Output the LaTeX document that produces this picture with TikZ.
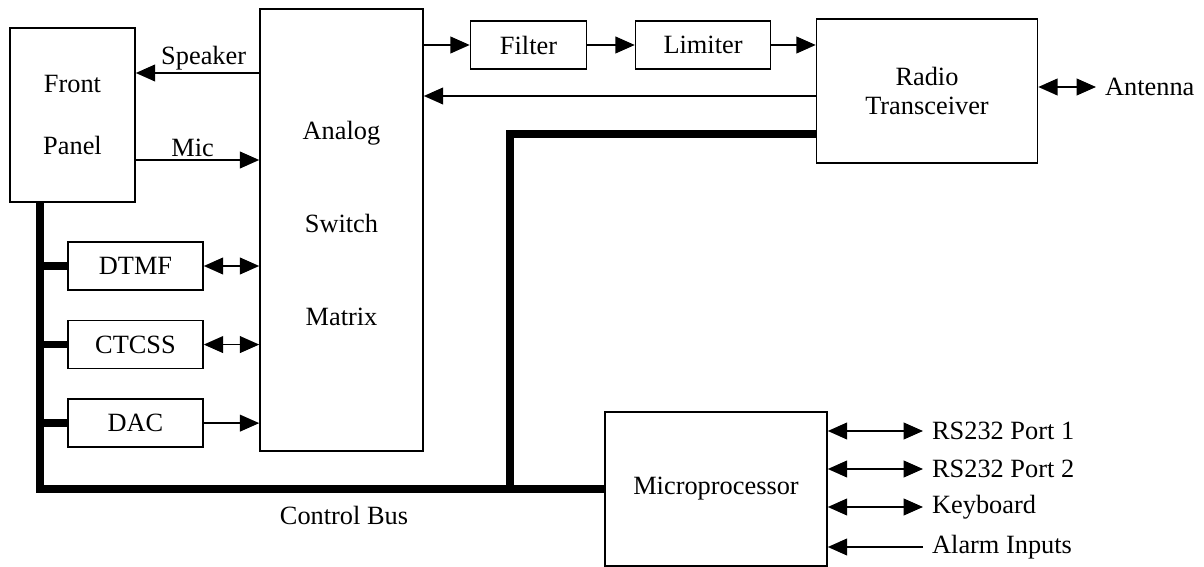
\documentclass[tikz,border=0pt]{standalone}
\usepackage{fontspec}
\setmainfont{Liberation Serif}
\usetikzlibrary{arrows.meta}
\usetikzlibrary{positioning}
\usetikzlibrary{calc}

\begin{document}
\begin{tikzpicture}[x=0.02cm, y=-0.02cm,
  font=\fontsize{15}{17}\selectfont,
  >={Triangle[length=11pt,width=9.5pt]},
  block/.style={rectangle, draw=black, line width=0.9pt, inner sep=0mm,
    align=center},
  smallblock/.style={block, minimum width=2.7cm, minimum height=0.96cm},
  sig/.style={line width=1pt},
  bus/.style={line width=4.3pt},
  port/.style={anchor=west, inner sep=5pt}]

  \useasboundingbox (0,0) rectangle (1204,567);

  \node[block, minimum width=2.5cm, minimum height=3.48cm] (FP) at (72.5,115)
  {Front\\[18pt]Panel};

  \node[block, minimum width=3.26cm, minimum height=8.84cm, text depth=7.5pt]
  (ASM) at (341.5,230) {Analog\\[36pt]Switch\\[36pt]Matrix};

  \node[block, minimum width=2.32cm, minimum height=0.96cm] (Filter) at (528.5,45)
  {Filter};
  \node[smallblock] (Limiter) [right=0.95cm of Filter] {Limiter};

  \node[block, minimum width=4.42cm, minimum height=2.88cm] (Radio) at (927,91)
  {Radio\\Transceiver};

  \node[smallblock] (DTMF) at (135.5,266) {DTMF};
  \node[smallblock] (CTCSS) [below=0.58cm of DTMF] {CTCSS};
  \node[smallblock] (DAC) [below=0.58cm of CTCSS] {DAC};

  \node[block, minimum width=4.44cm, minimum height=3.08cm] (Micro) at (716,489)
  {Microprocessor};

  \node[port] (Ant) at (1096,87) {Antenna};
  \node[port] (P1) at (923,431) {RS232 Port 1};
  \node[port] (P2) at (923,469) {RS232 Port 2};
  \node[port] (KB) at (923,507) {Keyboard};
  \node[port] (AL) at (923,547) {Alarm Inputs};

  \node (CB) at (344,515) {Control Bus};

\coordinate (spk) at (0,73);
\coordinate (mic) at (0,160);
\coordinate (rx) at (0,96);
\coordinate (busy) at (0,134);
\coordinate (bl) at (40,489);
\coordinate (bj) at (510,489);

  \path[->, sig]
 (spk -| ASM.west) edge node[above, inner sep=1pt, pos=0.45]{Speaker} (spk -| FP.east)
 (mic -| FP.east) edge node[above, inner sep=1.5pt, pos=0.46]{Mic} (mic -| ASM.west)
 (Filter.west -| ASM.east) edge (Filter.west)
 (Filter.east) edge (Limiter.west)
 (Limiter.east) edge (Limiter.east -| Radio.west)
 (rx -| Radio.west) edge (rx -| ASM.east)
 (DAC.east) edge (DAC.east -| ASM.west)
 (AL.west) edge (AL.west -| Micro.east);

  \path[<->, sig]
 (DTMF.east) edge (DTMF.east -| ASM.west)
 (CTCSS.east) edge (CTCSS.east -| ASM.west)
 (Ant.west -| Radio.east) edge (Ant.west)
 (P1.west -| Micro.east) edge (P1.west)
 (P2.west -| Micro.east) edge (P2.west)
 (KB.west -| Micro.east) edge (KB.west);

\draw[bus] (FP.south -| bl) -- (bl) -- (Micro.west);
\draw[bus] (bj) |- (busy -| Radio.west);
\draw[bus] (DTMF.west -| bl) -- (DTMF.west);
\draw[bus] (CTCSS.west -| bl) -- (CTCSS.west);
\draw[bus] (DAC.west -| bl) -- (DAC.west);

\end{tikzpicture}
\end{document}
